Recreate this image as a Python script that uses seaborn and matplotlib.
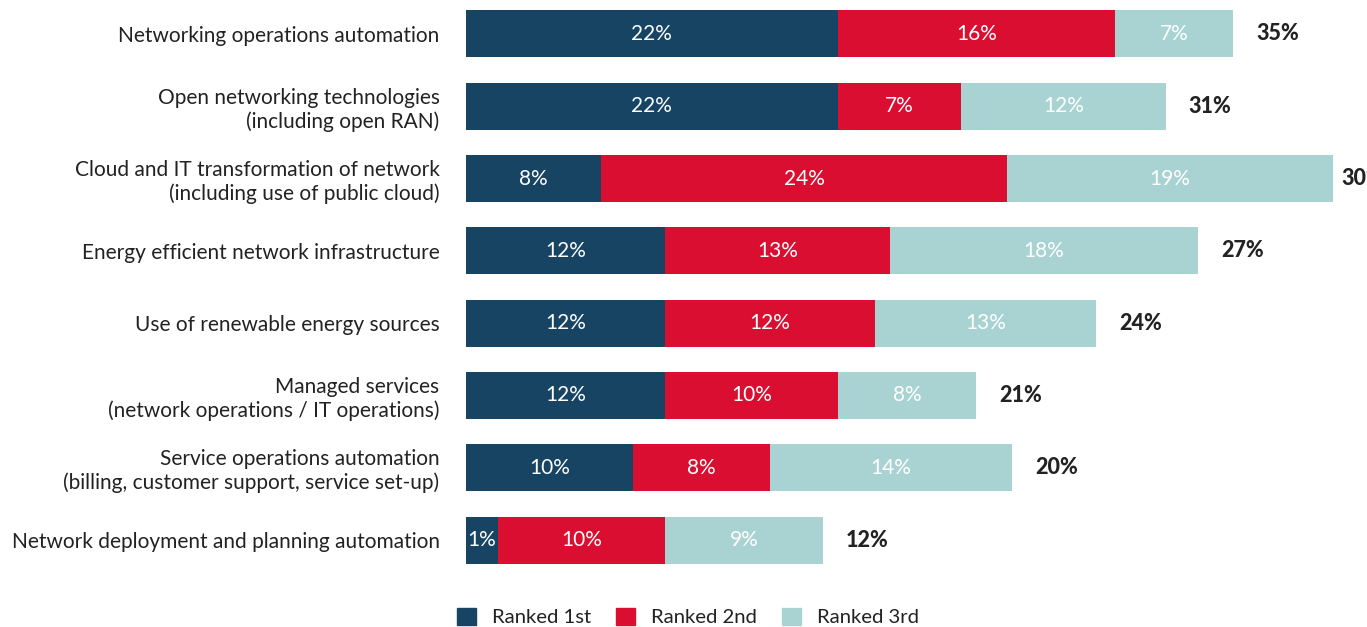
import pandas as pd
import seaborn as sns
import matplotlib.pyplot as plt

categories = [
    'Networking operations automation',
    'Open networking technologies\n(including open RAN)',
    'Cloud and IT transformation of network\n(including use of public cloud)',
    'Energy efficient network infrastructure',
    'Use of renewable energy sources',
    'Managed services\n(network operations / IT operations)',
    'Service operations automation\n(billing, customer support, service set-up)',
    'Network deployment and planning automation',
]
# bar lengths and the percentages printed on them
ranked_1st = [22.0, 22.0, 8.0, 11.8, 11.8, 11.8, 9.9, 1.9]
ranked_2nd = [16.4, 7.3, 24.0, 13.3, 12.4, 10.2, 8.1, 9.9]
ranked_3rd = [7.0, 12.1, 19.3, 18.2, 13.1, 8.2, 14.3, 9.3]
labels_1st = [22, 22, 8, 12, 12, 12, 10, 1]
labels_2nd = [16, 7, 24, 13, 12, 10, 8, 10]
labels_3rd = [7, 12, 19, 18, 13, 8, 14, 9]
totals = [35, 31, 30, 27, 24, 21, 20, 12]

series = ['Ranked 1st', 'Ranked 2nd', 'Ranked 3rd']
colors = ['#164462', '#d90e30', '#a9d3d3']

df = pd.DataFrame({'Category': categories, 'First': ranked_1st,
                   'Second': ranked_2nd, 'Third': ranked_3rd})
df['c1'] = df['First']
df['c2'] = df['First'] + df['Second']
df['c3'] = df['c2'] + df['Third']

sns.set_style('white')
plt.rcParams['font.family'] = ['Lato', 'DejaVu Sans']

fig = plt.figure(figsize=(13.67, 6.27), dpi=100)
ax = fig.add_axes([466 / 1367, 47 / 627, 901 / 1367, 580 / 627])

# draw cumulative bars back to front so they stack
for col, color in zip(['c3', 'c2', 'c1'], colors[::-1]):
    sns.barplot(data=df, x=col, y='Category', orient='h', color=color,
                width=0.65, ax=ax, saturation=1, linewidth=0, edgecolor='none')

ax.set_xlim(0, 901 / 16.9)
ax.set_ylim(7.553, -0.470)
ax.set_xlabel('')
ax.set_ylabel('')
ax.set_xticks([])
ax.tick_params(axis='y', length=0, pad=19, labelsize=15, labelcolor='#222222')
sns.despine(ax=ax, left=True, bottom=True)

px = 16.9  # pixels per percent
for i in range(len(categories)):
    starts = [0, df['c1'][i], df['c2'][i]]
    widths = [ranked_1st[i], ranked_2nd[i], ranked_3rd[i]]
    labs = [labels_1st[i], labels_2nd[i], labels_3rd[i]]
    for s, w, l in zip(starts, widths, labs):
        ax.text(s + w / 2, i, f'{l}%', ha='center', va='center',
                color='white', fontsize=15)
    x_tot = min(df['c3'][i] + 23 / px, (1341 - 466) / px)
    ax.text(x_tot, i, f'{totals[i]}%', ha='left', va='center',
            color='#222222', fontsize=15.5, fontweight='black', clip_on=False)

handles = [plt.Rectangle((0, 0), 1, 1, color=c) for c in colors]
fig.legend(handles, series, loc='center', bbox_to_anchor=(688 / 1367, 1 - 617 / 627),
           ncol=3, frameon=False, fontsize=14.6, handlelength=0.95, handleheight=0.95,
           handletextpad=0.8, columnspacing=1.2, labelcolor='#222222')

fig.savefig('out.png', dpi=100)
